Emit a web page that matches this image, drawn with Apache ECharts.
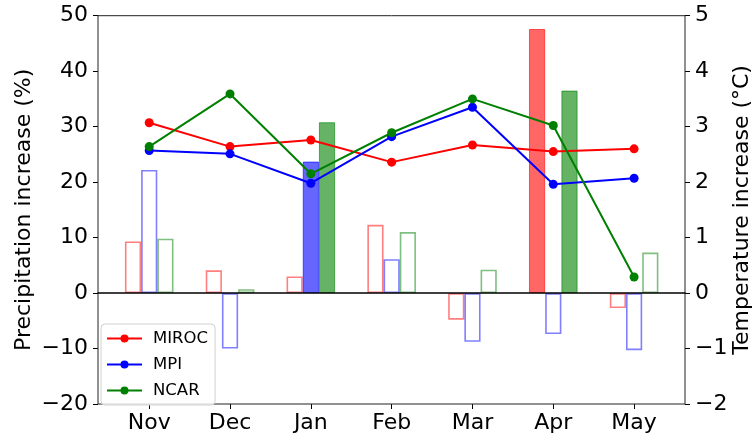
<!DOCTYPE html>
<html>
<head>
<meta charset="utf-8">
<script src="https://cdn.jsdelivr.net/npm/echarts@6/dist/echarts.min.js"></script>
<style>html,body{margin:0;padding:0;background:#fff}#c{width:756px;height:436px}</style>
</head>
<body>
<div id="c"></div>
<script>
// ---- data ----
const months = ['Nov', 'Dec', 'Jan', 'Feb', 'Mar', 'Apr', 'May'];
// precipitation increase (%) - bars, left axis
const precipMIROC = [9.3, 4.1, 3.0, 12.3, -4.8, 47.6, -2.7];
const precipMPI   = [22.2, -10.0, 23.7, 6.1, -8.8, -7.4, -10.3];
const precipNCAR  = [9.8, 0.7, 30.8, 11.0, 4.2, 36.5, 7.3];
// filled (1) vs outline (0) bars
const filledMIROC = [0, 0, 0, 0, 0, 1, 0];
const filledMPI   = [0, 0, 1, 0, 0, 0, 0];
const filledNCAR  = [0, 0, 1, 0, 0, 1, 0];
// temperature increase (°C) - lines, right axis
const tempMIROC = [3.07, 2.64, 2.76, 2.36, 2.67, 2.55, 2.60];
const tempMPI   = [2.57, 2.51, 1.98, 2.82, 3.35, 1.96, 2.07];
const tempNCAR  = [2.64, 3.59, 2.15, 2.89, 3.50, 3.02, 0.29];
const leftTicks  = {min: -20, max: 50, interval: 10};
const rightTicks = {min: -2, max: 5, interval: 1};
const models = ['MIROC', 'MPI', 'NCAR'];

const rgb = {MIROC: '255,0,0', MPI: '0,0,255', NCAR: '0,128,0'};
const lineCol = {MIROC: '#ff0000', MPI: '#0000ff', NCAR: '#008000'};
const FONT = 'DejaVu Sans';
const minus = v => String(v).replace('-', '\u2212');

function barData(vals, flags, name) {
  return vals.map((v, i) => ({
    value: v,
    itemStyle: flags[i]
      ? {color: 'rgba(' + rgb[name] + ',0.6)', borderColor: 'rgba(' + rgb[name] + ',0.6)', borderWidth: 1}
      : {color: 'rgba(255,255,255,0)', borderColor: 'rgba(' + rgb[name] + ',0.5)', borderWidth: 1.6}
  }));
}

const precip = {MIROC: precipMIROC, MPI: precipMPI, NCAR: precipNCAR};
const flags = {MIROC: filledMIROC, MPI: filledMPI, NCAR: filledNCAR};
const temp = {MIROC: tempMIROC, MPI: tempMPI, NCAR: tempNCAR};

const series = [];
models.forEach(m => {
  series.push({
    type: 'bar', xAxisIndex: 0, yAxisIndex: 2,
    data: barData(precip[m], flags[m], m),
    barWidth: 16.2, barGap: '0%', z: 2, silent: true
  });
});
models.forEach(m => {
  series.push({
    name: m, type: 'line', xAxisIndex: 0, yAxisIndex: 3,
    data: temp[m], symbol: 'circle', symbolSize: 9,
    lineStyle: {color: lineCol[m], width: 2},
    itemStyle: {color: lineCol[m]}, z: 4, silent: true
  });
});

const chart = echarts.init(document.getElementById('c'), null, {renderer: 'canvas'});
chart.setOption({
  animation: false,
  backgroundColor: '#fff',
  textStyle: {fontFamily: FONT},
  grid: [
    {left: 108.8, right: 81.5, top: 15.7, bottom: 32, containLabel: false, outerBoundsMode: 'none'},
    {left: 98, right: 71, top: 15.7, bottom: 32, containLabel: false, outerBoundsMode: 'none',
     show: true, borderColor: '#222', borderWidth: 1, backgroundColor: 'transparent', z: 3}
  ],
  legend: {
    orient: 'vertical', left: 101, top: 324,
    data: models,
    itemWidth: 35, itemHeight: 10, itemGap: 9,
    padding: [6, 7, 6, 5],
    borderColor: '#d0d0d0', borderWidth: 1, borderRadius: 4,
    backgroundColor: 'rgba(255,255,255,0.8)',
    textStyle: {fontFamily: FONT, fontSize: 16.5, color: '#000', lineHeight: 16, padding: [0, 0, 0, 6]},
    z: 10
  },
  xAxis: [
    {
      type: 'category', gridIndex: 0, data: months, boundaryGap: true,
      axisLine: {show: false, onZero: false},
      axisTick: {show: true, alignWithLabel: true, length: 5, lineStyle: {color: '#000'}},
      axisLabel: {fontFamily: FONT, fontSize: 22, color: '#000', margin: 8},
      splitLine: {show: false}
    },
    {
      type: 'value', gridIndex: 1, min: 0, max: 1,
      axisLine: {show: true, onZero: true, lineStyle: {color: '#000', width: 1.5}},
      axisTick: {show: false}, axisLabel: {show: false}, splitLine: {show: false}, z: 5
    }
  ],
  yAxis: [
    {
      type: 'value', gridIndex: 1, position: 'left',
      min: leftTicks.min, max: leftTicks.max, interval: leftTicks.interval,
      name: 'Precipitation increase (%)', nameLocation: 'middle', nameRotate: 90, nameGap: 63,
      nameMoveOverlap: false,
      nameTextStyle: {fontFamily: FONT, fontSize: 22, color: '#000'},
      axisLine: {show: false},
      axisTick: {show: true, length: 5, lineStyle: {color: '#000'}},
      axisLabel: {fontFamily: FONT, fontSize: 22, color: '#000', margin: 10, formatter: minus},
      splitLine: {show: false}
    },
    {
      type: 'value', gridIndex: 1, position: 'right',
      min: rightTicks.min, max: rightTicks.max, interval: rightTicks.interval,
      name: 'Temperature increase (\u00B0C)', nameLocation: 'middle', nameRotate: 90, nameGap: 46,
      nameMoveOverlap: false,
      nameTextStyle: {fontFamily: FONT, fontSize: 22, color: '#000'},
      axisLine: {show: false},
      axisTick: {show: true, length: 5, lineStyle: {color: '#000'}},
      axisLabel: {fontFamily: FONT, fontSize: 22, color: '#000', margin: 10, formatter: minus},
      splitLine: {show: false}
    },
    {
      type: 'value', gridIndex: 0, show: false,
      min: leftTicks.min, max: leftTicks.max, interval: leftTicks.interval,
      splitLine: {show: false}
    },
    {
      type: 'value', gridIndex: 0, show: false, position: 'right',
      min: rightTicks.min, max: rightTicks.max, interval: rightTicks.interval,
      splitLine: {show: false}
    }
  ],
  series: series
});
</script>
</body>
</html>
